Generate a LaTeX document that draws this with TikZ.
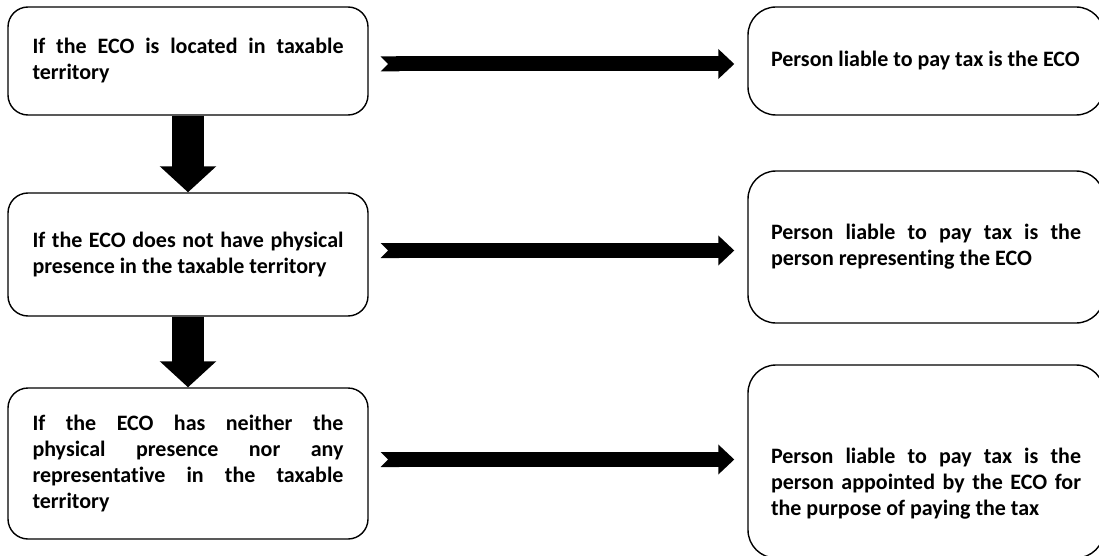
\documentclass[tikz,border=0pt]{standalone}
\usepackage{fontspec}
\setmainfont{Carlito}[Ligatures=NoCommon]
\usetikzlibrary{arrows.meta,positioning,calc}

\begin{document}
\begin{tikzpicture}[
  x=1pt, y=-1pt,
  every node/.style = {font=\fontsize{22}{26}\selectfont\bfseries},
  leftbox/.style={draw, line width=1.4pt, rounded corners=20pt,
    minimum width=360pt, text width=311pt, align=justify, inner sep=0pt},
  rightbox/.style={draw, line width=1.4pt, rounded corners=28pt,
    minimum width=356pt, text width=310pt, align=justify, inner sep=0pt},
  downarrow/.style={line width=32pt, -{Triangle[width=55pt,length=26pt]}},
  sidearrow/.style={line width=15pt, {Triangle Cap[reversed]}-{Triangle[width=29pt,length=16pt]},
    shorten <=12pt, shorten >=13pt}
  ]

\useasboundingbox (0,0) rectangle (1099,556);
\clip (0,0) rectangle (1099,556);

% left column
\node[leftbox, minimum height=108pt] (cond1) at (188,61)
  {If the ECO is located in taxable\linebreak territory};
\node[leftbox, minimum height=123pt] (cond2) at (188,254.5)
  {If the ECO does not have physical\linebreak presence in the taxable territory};
\node[leftbox, minimum height=151pt] (cond3) at (188,463.5)
  {If the ECO has neither the\linebreak physical presence nor any\linebreak
   representative in the taxable\linebreak territory};

% right column
\node[rightbox, minimum height=108pt] (liable1) at (926,61)
  {Person liable to pay tax is the ECO};
\node[rightbox, minimum height=152pt] (liable2) at (926,247)
  {Person liable to pay tax is the\linebreak person representing the ECO};
\node[rightbox, minimum height=193pt] (liable3) at (926,461.5) {};
\node[text width=310pt, align=justify, inner sep=0pt] (liable3txt) at (926,484)
  {Person liable to pay tax is the\linebreak person appointed by the ECO for\linebreak
   the purpose of paying the tax};

% arrows
\draw[downarrow] (cond1.south) -- (cond2.north);
\draw[downarrow] (cond2.south) -- (cond3.north);
\draw[sidearrow] ($(cond1.east)+(0,3)$) -- ($(cond1.east -| liable1.west)+(0,3)$);
\draw[sidearrow] ($(cond2.east)+(0,-4)$) -- ($(cond2.east -| liable2.west)+(0,-4)$);
\draw[sidearrow] ($(cond3.east)+(0,-4)$) -- ($(cond3.east -| liable3.west)+(0,-4)$);

\end{tikzpicture}
\end{document}
